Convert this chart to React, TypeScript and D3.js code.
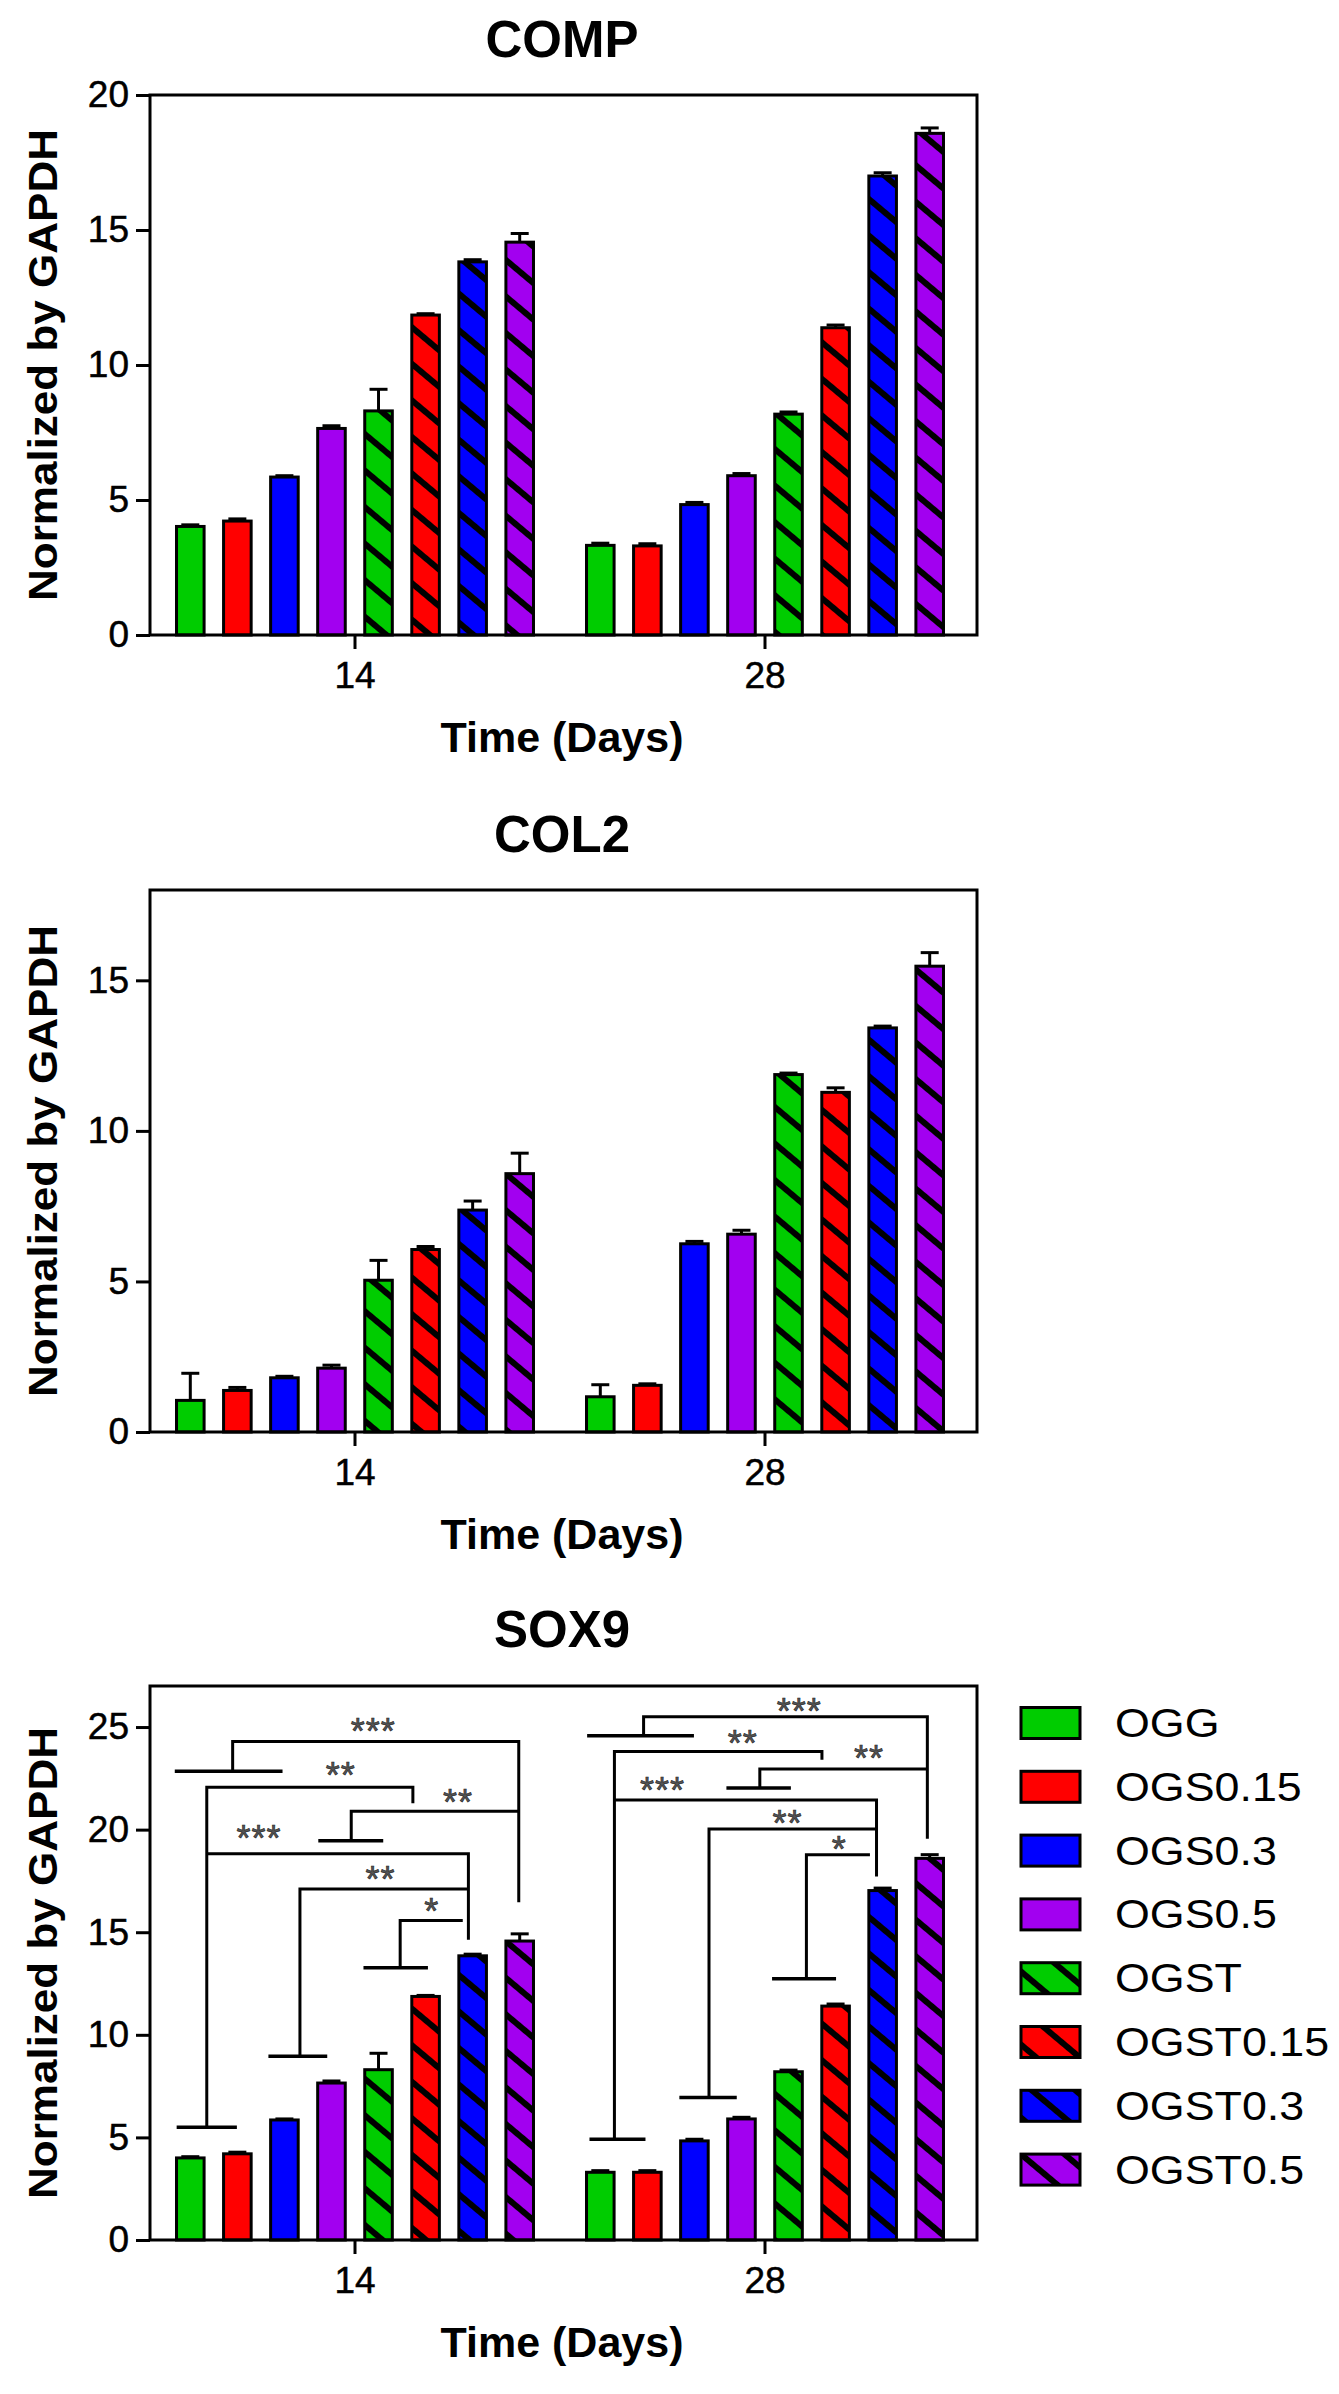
import React, { useEffect, useRef } from 'react';
import * as d3 from 'd3';

// ---- data ----
const days = ['14', '28'];
const groups = ['OGG', 'OGS0.15', 'OGS0.3', 'OGS0.5', 'OGST', 'OGST0.15', 'OGST0.3', 'OGST0.5'];
const groupColors = ['#00CC00', '#FF0000', '#0000FF', '#A200F0', '#00CC00', '#FF0000', '#0000FF', '#A200F0'];
const hatchedGroups = [false, false, false, false, true, true, true, true];

const compDay14 = [4.02, 4.22, 5.85, 7.65, 8.3, 11.85, 13.82, 14.55];
const compDay28 = [3.32, 3.3, 4.83, 5.9, 8.18, 11.38, 17.0, 18.58];
const compErr14 = [0.06, 0.08, 0.05, 0.1, 0.8, 0.05, 0.08, 0.32];
const compErr28 = [0.08, 0.08, 0.08, 0.08, 0.08, 0.1, 0.12, 0.2];
const compTicks = [0, 5, 10, 15, 20];

const col2Day14 = [1.05, 1.38, 1.8, 2.12, 5.04, 6.06, 7.37, 8.58];
const col2Day28 = [1.17, 1.55, 6.25, 6.57, 11.87, 11.28, 13.42, 15.47];
const col2Err14 = [0.9, 0.1, 0.05, 0.1, 0.66, 0.1, 0.3, 0.68];
const col2Err28 = [0.4, 0.05, 0.08, 0.13, 0.05, 0.15, 0.06, 0.45];
const col2Ticks = [0, 5, 10, 15];

const sox9Day14 = [4.0, 4.2, 5.85, 7.65, 8.3, 11.87, 13.85, 14.57];
const sox9Day28 = [3.3, 3.3, 4.83, 5.9, 8.2, 11.4, 17.03, 18.6];
const sox9Err14 = [0.06, 0.08, 0.05, 0.1, 0.8, 0.05, 0.08, 0.35];
const sox9Err28 = [0.08, 0.08, 0.08, 0.08, 0.08, 0.1, 0.12, 0.18];
const sox9Ticks = [0, 5, 10, 15, 20, 25];

// significance brackets: x in bar-index units within a day group, y in data units
interface Bracket {
  stars: string;
  bar?: [number, number, number]; // x0, x1, y of the T-bar
  path: [number, number][];
  label: [number, number];
}

const sox9Brackets14: Bracket[] = [
  { stars: '***', bar: [-0.33, 1.96, 22.84], path: [[0.9, 22.84], [0.9, 24.3], [6.98, 24.3], [6.98, 16.46]], label: [3.89, 25.17] },
  { stars: '**', bar: [-0.29, 0.99, 5.5], path: [[0.35, 5.5], [0.35, 22.06], [4.73, 22.06], [4.73, 21.28]], label: [3.2, 23.0] },
  { stars: '***', path: [[0.35, 18.82], [5.91, 18.82], [5.91, 14.63]], label: [1.46, 19.95] },
  { stars: '**', bar: [2.72, 4.1, 19.46], path: [[3.42, 19.46], [3.42, 20.89], [6.98, 20.89]], label: [5.69, 21.7] },
  { stars: '**', bar: [1.66, 2.91, 8.95], path: [[2.33, 8.95], [2.33, 17.11], [5.91, 17.11]], label: [4.04, 17.92] },
  { stars: '*', bar: [3.68, 5.05, 13.27], path: [[4.46, 13.27], [4.46, 15.57], [5.79, 15.57]], label: [5.13, 16.38] },
];

const sox9Brackets28: Bracket[] = [
  { stars: '***', bar: [-0.28, 1.99, 24.57], path: [[0.92, 24.57], [0.92, 25.5], [6.95, 25.5], [6.95, 19.55]], label: [4.23, 26.1] },
  { stars: '**', bar: [-0.23, 0.96, 4.91], path: [[0.3, 4.91], [0.3, 23.81], [4.71, 23.81], [4.71, 23.4]], label: [3.03, 24.54] },
  { stars: '***', path: [[0.3, 21.45], [5.87, 21.45], [5.87, 17.71]], label: [1.32, 22.25] },
  { stars: '**', bar: [2.68, 4.05, 22.03], path: [[3.39, 22.03], [3.39, 22.95], [6.95, 22.95]], label: [5.71, 23.84] },
  { stars: '**', bar: [1.68, 2.9, 6.94], path: [[2.31, 6.94], [2.31, 20.03], [5.87, 20.03]], label: [3.98, 20.68] },
  { stars: '*', bar: [3.65, 5.01, 12.73], path: [[4.38, 12.73], [4.38, 18.78], [5.73, 18.78]], label: [5.08, 19.42] },
];

// ---- layout ----
const WIDTH = 1339;
const HEIGHT = 2394;
const FONT = '"Liberation Sans", Arial, Helvetica, sans-serif';
const plotLeft = 150;
const plotRight = 977;
const titleX = 562;

interface Panel {
  title: string;
  titleY: number;
  top: number;
  zero: number;
  max: number;
  ticks: number[];
  values: number[][];
  errors: number[][];
  brackets: Bracket[][];
  legend?: boolean;
}

const panels: Panel[] = [
  { title: 'COMP', titleY: 57, top: 95, zero: 635, max: 20, ticks: compTicks, values: [compDay14, compDay28], errors: [compErr14, compErr28], brackets: [[], []] },
  { title: 'COL2', titleY: 852, top: 890, zero: 1432, max: 18, ticks: col2Ticks, values: [col2Day14, col2Day28], errors: [col2Err14, col2Err28], brackets: [[], []] },
  { title: 'SOX9', titleY: 1647, top: 1686, zero: 2240, max: 27, ticks: sox9Ticks, values: [sox9Day14, sox9Day28], errors: [sox9Err14, sox9Err28], brackets: [sox9Brackets14, sox9Brackets28], legend: true },
];

export default function App() {
  const svgRef = useRef<SVGSVGElement>(null);

  useEffect(() => {
    const svgElement = svgRef.current;
    if (!svgElement) return;
    const svg = d3.select(svgElement);
    svg.selectAll('*').remove();

    // hatch patterns for the "T" groups
    const defs = svg.append('defs');
    groupColors.forEach((c, i) => {
      const p = defs
        .append('pattern')
        .attr('id', `hatch-${i}`)
        .attr('patternUnits', 'userSpaceOnUse')
        .attr('width', 10)
        .attr('height', 28)
        .attr('patternTransform', 'rotate(40)');
      p.append('rect').attr('width', 10).attr('height', 28).attr('fill', c);
      p.append('line')
        .attr('x1', 0).attr('x2', 10)
        .attr('y1', 14).attr('y2', 14)
        .attr('stroke', '#000')
        .attr('stroke-width', 6);
    });
    const fillFor = (i: number) => (hatchedGroups[i] ? `url(#hatch-${i})` : groupColors[i]);

    const x0 = d3.scaleBand().domain(days).range([plotLeft, plotRight - 7]).paddingInner(0.122).paddingOuter(0.061);
    const x1 = d3.scaleBand().domain(groups).range([0, x0.bandwidth()]).paddingInner(0.35);
    const xAt = (day: string, idx: number) =>
      (x0(day) as number) + (x1(groups[0]) as number) + x1.bandwidth() / 2 + idx * x1.step();

    panels.forEach((panel) => {
      const y = d3.scaleLinear().domain([0, panel.max]).range([panel.zero, panel.top]);
      const g = svg.append('g');

      // bars + error bars
      days.forEach((day, di) => {
        panel.values[di].forEach((v, i) => {
          const bx = (x0(day) as number) + (x1(groups[i]) as number);
          const cx = bx + x1.bandwidth() / 2;
          const e = panel.errors[di][i];
          g.append('line')
            .attr('x1', cx).attr('x2', cx)
            .attr('y1', y(v)).attr('y2', y(v + e))
            .attr('stroke', '#000').attr('stroke-width', 3);
          g.append('line')
            .attr('x1', cx - 9).attr('x2', cx + 9)
            .attr('y1', y(v + e)).attr('y2', y(v + e))
            .attr('stroke', '#000').attr('stroke-width', 3);
          g.append('rect')
            .attr('x', bx + 1.5)
            .attr('y', y(v))
            .attr('width', x1.bandwidth() - 3)
            .attr('height', y(0) - y(v))
            .attr('fill', fillFor(i))
            .attr('stroke', '#000')
            .attr('stroke-width', 3);
        });

        // significance brackets
        const line = d3
          .line<[number, number]>()
          .x((d) => xAt(day, d[0]))
          .y((d) => y(d[1]));
        panel.brackets[di].forEach((b) => {
          if (b.bar) {
            g.append('line')
              .attr('x1', xAt(day, b.bar[0])).attr('x2', xAt(day, b.bar[1]))
              .attr('y1', y(b.bar[2])).attr('y2', y(b.bar[2]))
              .attr('stroke', '#000').attr('stroke-width', 3.5);
          }
          g.append('path')
            .attr('d', line(b.path) as string)
            .attr('fill', 'none')
            .attr('stroke', '#000')
            .attr('stroke-width', 3);
          g.append('text')
            .attr('x', xAt(day, b.label[0]))
            .attr('y', y(b.label[1]) + 20)
            .attr('text-anchor', 'middle')
            .attr('font-family', FONT)
            .attr('font-size', 36)
            .attr('letter-spacing', 1)
            .attr('fill', '#555')
            .attr('stroke', '#222')
            .attr('stroke-width', 0.6)
            .text(b.stars);
        });
      });

      // frame
      g.append('rect')
        .attr('x', plotLeft)
        .attr('y', panel.top)
        .attr('width', plotRight - plotLeft)
        .attr('height', panel.zero - panel.top)
        .attr('fill', 'none')
        .attr('stroke', '#000')
        .attr('stroke-width', 3);

      // Y axis
      const yAxis = g
        .append('g')
        .attr('transform', `translate(${plotLeft},0)`)
        .call(d3.axisLeft(y).tickValues(panel.ticks).tickSize(14).tickPadding(7).tickFormat(d3.format('d')));
      // X axis
      const xAxis = g
        .append('g')
        .attr('transform', `translate(0,${panel.zero})`)
        .call(d3.axisBottom(x0).tickSize(14).tickPadding(13));
      [yAxis, xAxis].forEach((ax) => {
        ax.select('.domain').remove();
        ax.selectAll('.tick line').attr('stroke', '#000').attr('stroke-width', 3);
        ax.selectAll('.tick text')
          .attr('fill', '#000')
          .attr('font-family', FONT)
          .attr('font-size', 37)
          .attr('stroke', '#000')
          .attr('stroke-width', 0.5);
      });

      // title
      g.append('text')
        .attr('x', titleX)
        .attr('y', panel.titleY)
        .attr('text-anchor', 'middle')
        .attr('font-family', FONT)
        .attr('font-weight', 'bold')
        .attr('font-size', 51)
        .text(panel.title);

      // axis titles
      g.append('text')
        .attr('x', titleX)
        .attr('y', panel.zero + 117)
        .attr('text-anchor', 'middle')
        .attr('font-family', FONT)
        .attr('font-weight', 'bold')
        .attr('font-size', 43)
        .text('Time (Days)');

      g.append('text')
        .attr('transform', `translate(57,${(panel.top + panel.zero) / 2}) rotate(-90)`)
        .attr('text-anchor', 'middle')
        .attr('font-family', FONT)
        .attr('font-weight', 'bold')
        .attr('font-size', 40)
        .attr('textLength', 472)
        .attr('lengthAdjust', 'spacingAndGlyphs')
        .text('Normalized by GAPDH');

      // legend
      if (panel.legend) {
        const legend = g.append('g');
        groups.forEach((name, i) => {
          const cy = 1723 + i * 63.8;
          legend
            .append('rect')
            .attr('x', 1021)
            .attr('y', cy - 15.5)
            .attr('width', 59)
            .attr('height', 31)
            .attr('fill', fillFor(i))
            .attr('stroke', '#000')
            .attr('stroke-width', 3);
          legend
            .append('g')
            .attr('transform', `translate(1115,${cy + 14}) scale(1.12,1)`)
            .append('text')
            .attr('font-family', FONT)
            .attr('font-size', 40)
            .text(name);
        });
      }
    });

    return () => {
      svg.selectAll('*').remove();
    };
  }, []);

  return (
    <svg
      ref={svgRef}
      width={WIDTH}
      height={HEIGHT}
      style={{ position: 'absolute', left: 0, top: 0, background: '#fff' }}
    />
  );
}
